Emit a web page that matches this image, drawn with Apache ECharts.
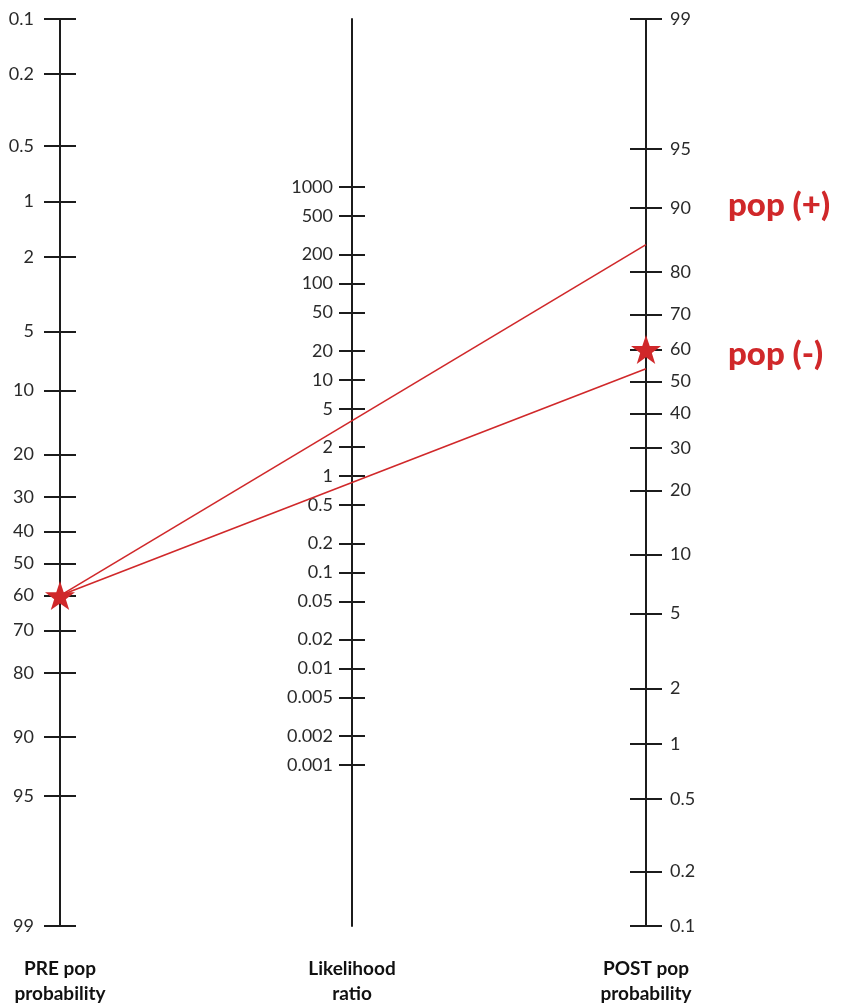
<!DOCTYPE html>
<html>
<head>
<meta charset="utf-8">
<script src="https://cdn.jsdelivr.net/npm/echarts@6/dist/echarts.min.js"></script>
<style>
html,body{margin:0;padding:0;background:#fff;}
#chart{width:844px;height:1006px;}
</style>
</head>
<body>
<div id="chart"></div>
<script>
// ---- data ----
const preTicks = [0.1, 0.2, 0.5, 1, 2, 5, 10, 20, 30, 40, 50, 60, 70, 80, 90, 95, 99];
const lrTicks = [1000, 500, 200, 100, 50, 20, 10, 5, 2, 1, 0.5, 0.2, 0.1, 0.05, 0.02, 0.01, 0.005, 0.002, 0.001];
const postTicks = [99, 95, 90, 80, 70, 60, 50, 40, 30, 20, 10, 5, 2, 1, 0.5, 0.2, 0.1];
const seriesNames = ['pop (+)', 'pop (-)'];
const preProb = 60;
const postProbs = [85, 54];
const postStar = 60;
const axisTitles = ['PRE pop\nprobability', 'Likelihood\nratio', 'POST pop\nprobability'];

// ---- scales ----
const logit = p => Math.log((p / 100) / (1 - p / 100));
const PMIN = logit(0.1), PMAX = logit(99);
const lg = v => Math.log10(v);
const LR_TOP = 4.746, LR_BOTTOM = -4.673;
const fmtP = v => { const p = 100 / (1 + Math.exp(-v)); return p >= 1 ? String(Math.round(p)) : String(Number(p.toFixed(1))); };
const fmtLR = v => String(Number(Math.pow(10, v).toPrecision(1)));
const toLeftAxis = postP => PMIN + PMAX - logit(postP);

const RED = '#d0282a';
const AX = '#1c1c1c';
const labelBase = { fontSize: 18, color: '#2a2a2a', fontFamily: 'Lato' };
const starPath = 'path://M50,0 L61.8,35.1 L97.6,35.1 L68.5,56.7 L79.4,91 L50,70 L20.6,91 L31.5,56.7 L2.4,35.1 L38.2,35.1 Z';

function probAxis(opts) {
  return Object.assign({
    type: 'value', min: PMIN, max: PMAX, splitLine: { show: false },
    axisLine: { show: true, lineStyle: { color: AX, width: 2 } }
  }, opts);
}

const preVals = preTicks.map(logit);
const postVals = postTicks.map(logit);
const lrVals = lrTicks.map(lg);

const chart = echarts.init(document.getElementById('chart'));
chart.setOption({
  animation: false,
  grid: { left: 60, right: 198, top: 19, bottom: 80 },
  xAxis: { type: 'value', min: 0, max: 1, show: false },
  yAxis: [
    probAxis({ position: 'left', inverse: true,
      axisTick: { show: true, customValues: preVals, length: 16, lineStyle: { color: AX, width: 2 } },
      axisLabel: Object.assign({ customValues: preVals, formatter: fmtP, margin: 26 }, labelBase) }),
    probAxis({ position: 'left', inverse: true,
      axisTick: { show: true, inside: true, customValues: preVals, length: 16, lineStyle: { color: AX, width: 2 } },
      axisLabel: { show: false } }),
    probAxis({ position: 'right', inverse: false,
      axisTick: { show: true, customValues: postVals, length: 16, lineStyle: { color: AX, width: 2 } },
      axisLabel: Object.assign({ customValues: postVals, formatter: fmtP, margin: 24 }, labelBase) }),
    probAxis({ position: 'right', inverse: false,
      axisTick: { show: true, inside: true, customValues: postVals, length: 16, lineStyle: { color: AX, width: 2 } },
      axisLabel: { show: false } }),
    { type: 'value', min: LR_BOTTOM, max: LR_TOP, position: 'left', offset: -292, splitLine: { show: false },
      axisLine: { show: true, lineStyle: { color: AX, width: 2 } },
      axisTick: { show: true, customValues: lrVals, length: 13, lineStyle: { color: AX, width: 2 } },
      axisLabel: Object.assign({ customValues: lrVals, formatter: fmtLR, margin: 19 }, labelBase) },
    { type: 'value', min: LR_BOTTOM, max: LR_TOP, position: 'left', offset: -292, splitLine: { show: false },
      axisLine: { show: false },
      axisTick: { show: true, inside: true, customValues: lrVals, length: 13, lineStyle: { color: AX, width: 2 } },
      axisLabel: { show: false } }
  ],
  series: [
    ...postProbs.map((q, i) => ({
      name: seriesNames[i], type: 'line', yAxisIndex: 0, clip: false, symbol: 'none', z: 3,
      lineStyle: { color: RED, width: 1.6 },
      data: [[0, logit(preProb)], [1, toLeftAxis(q)]]
    })),
    { type: 'scatter', yAxisIndex: 0, clip: false, z: 5, symbol: starPath, symbolSize: [30, 29],
      itemStyle: { color: RED, opacity: 1 }, data: [[0, logit(preProb)]] },
    { type: 'scatter', yAxisIndex: 2, clip: false, z: 5, symbol: starPath, symbolSize: [30, 29],
      itemStyle: { color: RED, opacity: 1 }, data: [[1, logit(postStar)]] }
  ],
  graphic: [
    { type: 'text', x: 728, y: 205, style: { text: seriesNames[0], fill: RED, font: '900 33px Lato', verticalAlign: 'middle', align: 'left' } },
    { type: 'text', x: 728, y: 354, style: { text: seriesNames[1], fill: RED, font: '900 33px Lato', verticalAlign: 'middle', align: 'left' } },
    ...axisTitles.map((t, i) => ({ type: 'text', x: [60, 352, 646][i], y: 981,
      style: { text: t, fill: '#111', font: 'bold 19px Lato', lineHeight: 25, align: 'center', verticalAlign: 'middle' } }))
  ]
});
</script>
</body>
</html>
